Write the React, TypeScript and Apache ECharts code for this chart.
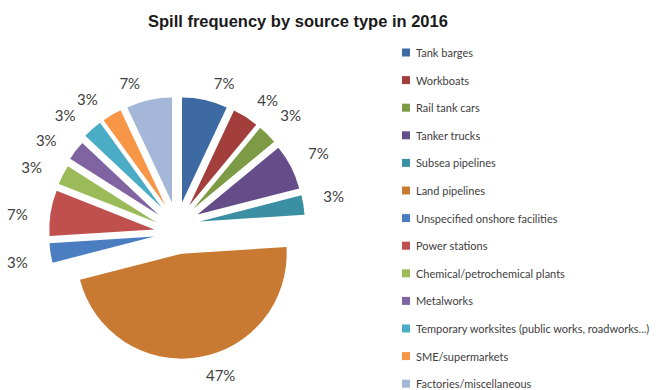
import React, { useEffect, useRef } from "react";
import * as echarts from "echarts";

const categories = [
  "Tank barges",
  "Workboats",
  "Rail tank cars",
  "Tanker trucks",
  "Subsea pipelines",
  "Land pipelines",
  "Unspecified onshore facilities",
  "Power stations",
  "Chemical/petrochemical plants",
  "Metalworks",
  "Temporary worksites (public works, roadworks...)",
  "SME/supermarkets",
  "Factories/miscellaneous",
];
const values = [7, 4, 3, 7, 3, 47, 3, 7, 3, 3, 3, 3, 7];
const colors = [
  "#3D6AA3",
  "#A23E3B",
  "#7D9B45",
  "#654D8A",
  "#3B8FA3",
  "#C97A32",
  "#4A7EC0",
  "#C0504D",
  "#9BBB59",
  "#8064A2",
  "#4BACC6",
  "#F79646",
  "#A5B7D8",
];
const title = "Spill frequency by source type in 2016";

// Layout groups mimicking the slight perspective tilt of the original 3D pie
const groups = [
  {
    names: [
      "Tank barges",
      "Workboats",
      "Rail tank cars",
      "Tanker trucks",
      "Subsea pipelines",
      "Temporary worksites (public works, roadworks...)",
      "SME/supermarkets",
      "Factories/miscellaneous",
    ],
    center: [177, 225],
    offset: 23,
  },
  { names: ["Metalworks"], center: [177, 229], offset: 23 },
  {
    names: ["Chemical/petrochemical plants", "Power stations", "Unspecified onshore facilities"],
    center: [177, 233],
    offset: 23,
  },
  { names: ["Land pipelines"], center: [177, 224], offset: 30 },
];
const labelShift: Record<string, [number, number]> = {
  "Workboats": [-3, -2],
  "Rail tank cars": [-5, -7],
  "Tanker trucks": [-4, -6],
  "Subsea pipelines": [-3, -6],
  "Power stations": [0, 4],
  "Unspecified onshore facilities": [0, 6],
};

export default function App() {
  const ref = useRef<HTMLDivElement>(null);
  useEffect(() => {
    if (!ref.current) return;
    const chart = echarts.init(ref.current, undefined, { renderer: "svg" });
    const labelStyle = {
      show: true,
      position: "outside",
      formatter: "{d}%",
      fontFamily: "Lato",
      fontSize: 15,
      color: "#404040",
    };
    const series = groups.map((g, gi) => ({
      type: "pie",
      name: "g" + gi,
      center: g.center,
      radius: [0, 105],
      startAngle: 90,
      clockwise: true,
      selectedMode: "multiple",
      selectedOffset: g.offset,
      avoidLabelOverlap: false,
      label: labelStyle,
      labelLine: { show: false, length: 18, length2: 0 },
      labelLayout: (params: any) => {
        const s = labelShift[categories[params.dataIndex]];
        return s ? { dx: s[0], dy: s[1] } : {};
      },
      emphasis: { disabled: true },
      percentPrecision: 0,
      data: categories.map((name, i) => {
        const visible = g.names.indexOf(name) >= 0;
        return {
          name,
          value: values[i],
          selected: visible,
          itemStyle: { color: visible ? colors[i] : "rgba(0,0,0,0)" },
          label: { show: visible },
        };
      }),
    }));
    chart.setOption({
      animation: false,
      backgroundColor: "#ffffff",
      title: {
        text: title,
        left: 143,
        top: 7,
        textStyle: {
          fontFamily: "Liberation Sans",
          fontWeight: "bold",
          fontSize: 16.5,
          color: "#1a1a1a",
        },
      },
      legend: {
        orient: "vertical",
        left: 397,
        top: 42,
        height: 420,
        itemWidth: 8,
        itemHeight: 8,
        itemGap: 16.6,
        icon: "rect",
        selectedMode: false,
        textStyle: { fontFamily: "Lato", fontSize: 11, color: "#404040", padding: [0, 0, 0, 1] },
        data: categories.map((name, i) => ({ name, itemStyle: { color: colors[i] } })),
      },
      series,
    });
    return () => chart.dispose();
  }, []);
  return (
    <div
      ref={ref}
      style={{ position: "fixed", left: 0, top: 0, width: 658, height: 390 }}
    />
  );
}
